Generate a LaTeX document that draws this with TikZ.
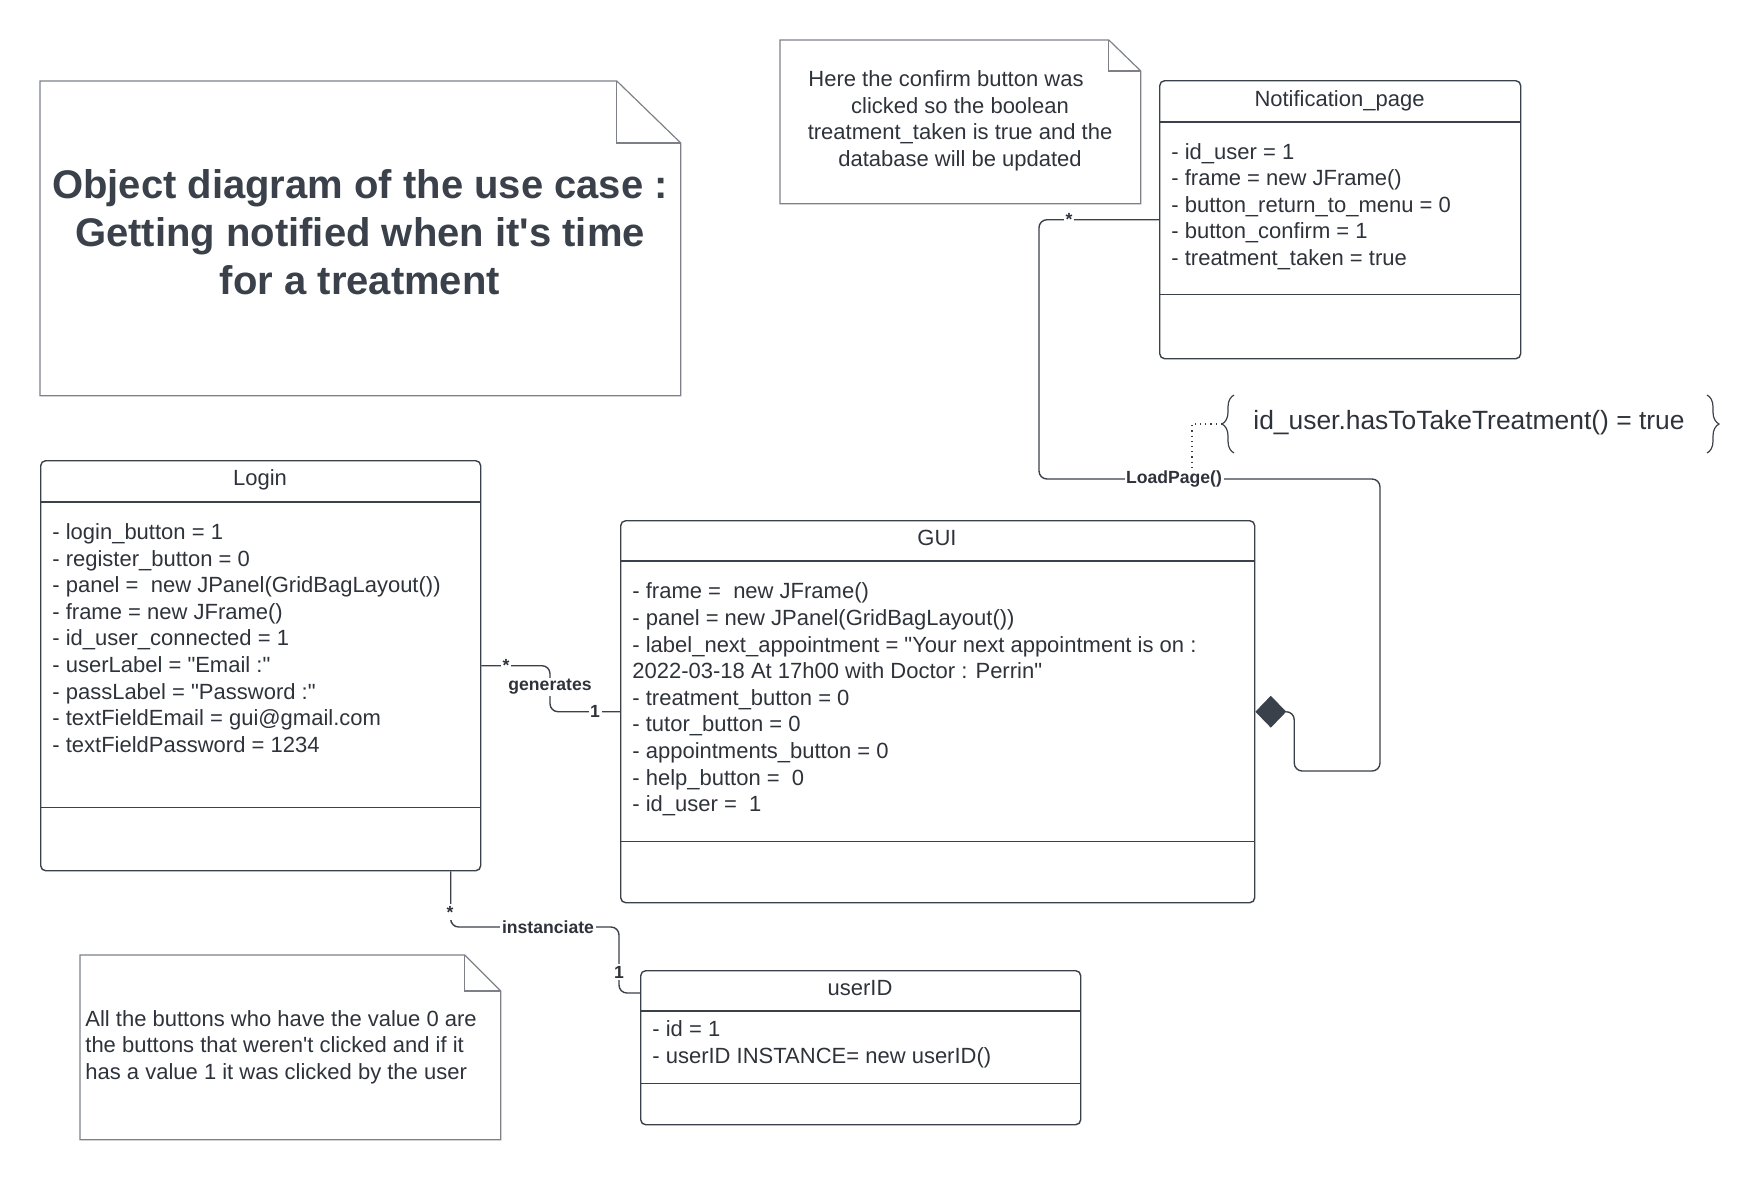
\documentclass[tikz,border=0pt]{standalone}
\usepackage{fontspec}
\setmainfont{Liberation Sans}[Ligatures=TeXOff]
\usetikzlibrary{shapes.geometric,decorations.pathreplacing}
\definecolor{linec}{HTML}{3A414A}
\definecolor{txtc}{HTML}{2E333B}
\definecolor{notec}{HTML}{7D8187}
\begin{document}
\begin{tikzpicture}[x=0.5pt,y=-0.5pt,
  classbox/.style={draw=linec, line width=0.7pt, rounded corners=2.5pt, anchor=north west, inner sep=0pt},
  sepline/.style={draw=linec, line width=0.7pt},
  ctitle/.style={font=\fontsize{11}{13.3}\selectfont, text=txtc, anchor=base, inner sep=0pt},
  attr/.style={font=\fontsize{11}{13.3}\selectfont, text=txtc, anchor=west, align=left, inner sep=0pt},
  notetext/.style={font=\fontsize{11}{13.3}\selectfont, text=txtc, inner sep=0pt},
  noteshape/.style={anchor=north west, inner sep=0pt},
  notedraw/.style={draw=notec, line width=0.6pt},
  conn/.style={draw=linec, line width=0.7pt, rounded corners=4pt},
  lbl/.style={font=\bfseries\fontsize{8.8}{10}\selectfont, text=txtc, fill=white, inner sep=0.8pt},
]
\useasboundingbox (0,0) rectangle (1760,1180);

% ---------- title note ----------
\node[noteshape, minimum width=320pt, minimum height=157pt] (tnote) at (40,81) {};
\draw[notedraw] (tnote.north west) -- ([xshift=-32pt]tnote.north east) -- ([yshift=-31pt]tnote.north east) -- (tnote.south east) -- (tnote.south west) -- cycle;
\draw[notedraw] ([xshift=-32pt]tnote.north east) |- ([yshift=-31pt]tnote.north east);
\node[font=\bfseries\fontsize{20}{24}\selectfont, text=linec, align=center, inner sep=0pt] (ttext) at (360,232)
  {Object diagram of the use case :\\Getting notified when it's time\\for a treatment};

% ---------- confirm note ----------
\node[noteshape, minimum width=180pt, minimum height=81.5pt] (cnote) at (780,40) {};
\draw[notedraw] (cnote.north west) -- ([xshift=-16pt]cnote.north east) -- ([yshift=-15.5pt]cnote.north east) -- (cnote.south east) -- (cnote.south west) -- cycle;
\draw[notedraw] ([xshift=-16pt]cnote.north east) |- ([yshift=-15.5pt]cnote.north east);
\node[notetext, align=center] (ctext) at (960,121)
  {Here the confirm button was\hspace*{14pt}\\clicked so the boolean\\treatment\_taken is true and the\\database will be updated};

% ---------- buttons note ----------
\node[noteshape, minimum width=210pt, minimum height=92pt] (bnote) at (80,955) {};
\draw[notedraw] (bnote.north west) -- ([xshift=-18pt]bnote.north east) -- ([yshift=-18pt]bnote.north east) -- (bnote.south east) -- (bnote.south west) -- cycle;
\draw[notedraw] ([xshift=-18pt]bnote.north east) |- ([yshift=-18pt]bnote.north east);
\node[notetext, align=left, anchor=west] (btext) at (85,1047)
  {All the buttons who have the value 0 are\\the buttons that weren't clicked and if it\\has a value 1 it was clicked by the user};

% ---------- Notification_page ----------
\node[classbox, minimum width=180.5pt, minimum height=139pt] (notif) at (1159,80) {};
\draw[sepline] ([yshift=-21pt]notif.north west) -- ([yshift=-21pt]notif.north east);
\draw[sepline] ([yshift=32.5pt]notif.south west) -- ([yshift=32.5pt]notif.south east);
\node[ctitle] (notift) at (1339.5,106) {Notification\_page};
\node[attr] (notifa) at (1171,206.5)
  {- id\_user = 1\\- frame = new JFrame()\\- button\_return\_to\_menu = 0\\- button\_confirm = 1\\- treatment\_taken = true};

% ---------- Login ----------
\node[classbox, minimum width=220pt, minimum height=205pt] (login) at (40,460) {};
\draw[sepline] ([yshift=-21pt]login.north west) -- ([yshift=-21pt]login.north east);
\draw[sepline] ([yshift=32pt]login.south west) -- ([yshift=32pt]login.south east);
\node[ctitle] (logint) at (260,485) {Login};
\node[attr] (logina) at (52,638)
  {- login\_button = 1\\- register\_button = 0\\- panel =\ \ new JPanel(GridBagLayout())\\- frame = new JFrame()\\- id\_user\_connected = 1\\- userLabel = "Email :"\\- passLabel = "Password :"\\- textFieldEmail = gui@gmail.com\\- textFieldPassword = 1234};

% ---------- GUI ----------
\node[classbox, minimum width=317pt, minimum height=191pt] (gui) at (620,520) {};
\draw[sepline] ([yshift=-20.5pt]gui.north west) -- ([yshift=-20.5pt]gui.north east);
\draw[sepline] ([yshift=31pt]gui.south west) -- ([yshift=31pt]gui.south east);
\node[ctitle] (guit) at (937,545) {GUI};
\node[attr] (guia) at (632,699.5)
  {- frame =\ \ new JFrame()\\- panel = new JPanel(GridBagLayout())\\- label\_next\_appointment = "Your next appointment is on :\\2022-03-18 At 17h00 with Doctor : Perrin"\\- treatment\_button = 0\\- tutor\_button = 0\\- appointments\_button = 0\\- help\_button =\ \ 0\\- id\_user =\ \ 1};

% ---------- userID ----------
\node[classbox, minimum width=220pt, minimum height=77pt] (userid) at (640,970) {};
\draw[sepline] ([yshift=-20.5pt]userid.north west) -- ([yshift=-20.5pt]userid.north east);
\draw[sepline] ([yshift=21pt]userid.south west) -- ([yshift=21pt]userid.south east);
\node[ctitle] (useridt) at (860,995) {userID};
\node[attr] (userida) at (652,1044)
  {- id = 1\\- userID INSTANCE= new userID()};

% ---------- composition Notification_page -> GUI ----------
\node[diamond, fill=linec, draw=linec, line width=0.4pt, minimum width=15pt, minimum height=15.5pt, inner sep=0pt, anchor=west] (comp) at (gui.east) {};
\draw[conn] (notif.west) -| (1039,479) -| (1380,771) -| ([xshift=4pt]comp.east) -- (comp.east);
\node[lbl] (lpstar) at (1069,219) {*};
\node[lbl] (lp) at (1174,479) {LoadPage()};

% condition with braces
\node[font=\fontsize{13.2}{15.8}\selectfont, text=txtc, anchor=west, inner sep=0pt] (cond) at (1253,423) {id\_user.hasToTakeTreatment() = true};
\draw[linec, line width=0.6pt, decorate, decoration={brace, amplitude=6pt, raise=0pt}] (1234,453) -- (1234,395);
\draw[linec, line width=0.6pt, decorate, decoration={brace, amplitude=6pt, raise=0pt}] (1707,395) -- (1707,453);
\coordinate (btip) at (1222,424);
\draw[linec, line width=0.6pt, dotted] (btip) -| ([xshift=9pt]lp.north);

% ---------- generates ----------
\draw[conn] (login.east) -| ([xshift=-35pt]gui.west) -- (gui.west);
\node[lbl] (genstar) at (506,665) {*};
\node[lbl] (gen) at (550,687) {generates};
\node[lbl] (genone) at (595,711) {1};

% ---------- instanciate ----------
\coordinate (instA) at ([xshift=95pt]login.south);
\coordinate (instB) at ([yshift=-11.5pt]userid.north west);
\draw[conn] (instA) |- (619,927) |- (instB);
\node[lbl] (inststar) at (450,912) {*};
\node[lbl] (inst) at (548,927) {instanciate};
\node[lbl] (instone) at (619,972) {1};
\end{tikzpicture}
\end{document}
